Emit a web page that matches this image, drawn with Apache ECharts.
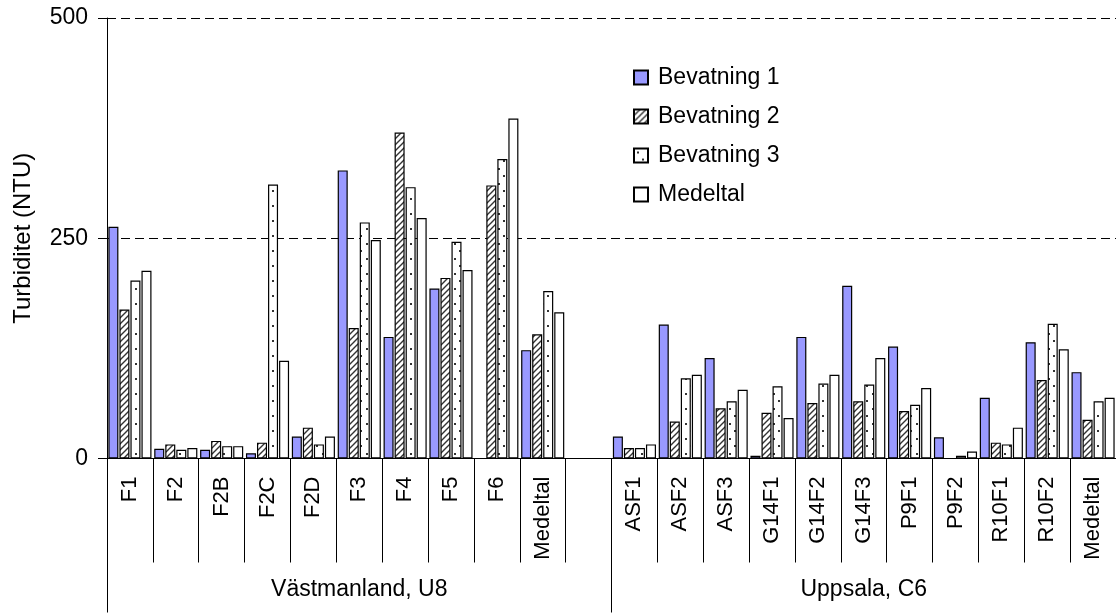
<!DOCTYPE html>
<html>
<head>
<meta charset="utf-8">
<script src="https://cdn.jsdelivr.net/npm/echarts@6/dist/echarts.min.js"></script>
<style>
  html, body { margin: 0; padding: 0; background: #fff; }
  #chart { width: 1116px; height: 613px; }
</style>
</head>
<body>
<div id="chart"></div>
<script>
// Sampling sites (blank slot separates the two regions)
const categories = ['F1', 'F2', 'F2B', 'F2C', 'F2D', 'F3', 'F4', 'F5', 'F6', 'Medeltal', '',
  'ASF1', 'ASF2', 'ASF3', 'G14F1', 'G14F2', 'G14F3', 'P9F1', 'P9F2', 'R10F1', 'R10F2', 'Medeltal'];
const regions = ['Västmanland, U8', 'Uppsala, C6'];
const seriesNames = ['Bevatning 1', 'Bevatning 2', 'Bevatning 3', 'Medeltal'];

// Turbidity (NTU) per irrigation
const bevatning1 = [263, 11, 10, 6, 25, 327, 138, 193, 0, 123, null,
  25, 152, 114, 3, 138, 196, 127, 24, 69, 132, 98];
const bevatning2 = [169, 16, 20, 18, 35, 148, 370, 205, 310, 141, null,
  12, 42, 57, 52, 63, 65, 54, 0, 18, 89, 44];
const bevatning3 = [202, 10, 14, 311, 16, 268, 308, 246, 340, 190, null,
  12, 91, 65, 82, 85, 84, 61, 3, 16, 153, 65];
const medeltal = [213, 12, 14, 111, 25, 248, 273, 214, 386, 166, null,
  16, 95, 78, 46, 95, 114, 80, 8, 35, 124, 69];

const yTicks = { min: 0, max: 500, interval: 250 };

const FONT = '"Liberation Sans", Arial, sans-serif';

// Fill patterns
function hatchPattern() {
  const c = document.createElement('canvas');
  c.width = 6; c.height = 6;
  const g = c.getContext('2d');
  g.fillStyle = '#fff'; g.fillRect(0, 0, 6, 6);
  g.strokeStyle = '#333'; g.lineWidth = 1.4;
  g.beginPath();
  g.moveTo(-1, 7); g.lineTo(7, -1);
  g.moveTo(-4, 4); g.lineTo(4, -4);
  g.moveTo(2, 10); g.lineTo(10, 2);
  g.stroke();
  return { image: c, repeat: 'repeat' };
}
function dotPattern() {
  const c = document.createElement('canvas');
  c.width = 11; c.height = 15;
  const g = c.getContext('2d');
  g.fillStyle = '#fff'; g.fillRect(0, 0, 11, 15);
  g.fillStyle = '#333';
  g.fillRect(3, 3, 2, 2);
  g.fillRect(8, 10, 2, 2);
  return { image: c, repeat: 'repeat' };
}

const fills = ['#9999FF', hatchPattern(), dotPattern(), '#FFFFFF'];
const values = [bevatning1, bevatning2, bevatning3, medeltal];

const chart = echarts.init(document.getElementById('chart'), null, { renderer: 'canvas' });

const bandWidth = 46.2;

chart.setOption({
  animation: false,
  backgroundColor: '#fff',
  textStyle: { fontFamily: FONT, color: '#000' },
  grid: { left: 107, top: 18, width: bandWidth * categories.length, bottom: 154.5, containLabel: false },
  legend: {
    orient: 'vertical',
    left: 633,
    top: 65,
    padding: 0,
    itemWidth: 14,
    itemHeight: 14,
    itemGap: 14,
    icon: 'rect',
    data: seriesNames,
    textStyle: { fontSize: 23, fontFamily: FONT, color: '#000', lineHeight: 25, padding: [0, 0, 0, 5] }
  },
  xAxis: [
    {
      type: 'category',
      data: categories,
      position: 'bottom',
      axisLine: { lineStyle: { color: '#000', width: 1 } },
      axisTick: { show: true, length: 104, interval: 0, lineStyle: { color: '#000', width: 1 } },
      axisLabel: { interval: 0, rotate: 90, margin: 18, fontSize: 22, fontFamily: FONT, color: '#000' },
      splitLine: { show: false }
    },
    {
      type: 'category',
      data: regions,
      position: 'bottom',
      axisLine: { show: false },
      axisTick: { show: true, length: 154, interval: 0, lineStyle: { color: '#000', width: 1 } },
      axisLabel: { interval: 0, margin: 120, fontSize: 23, fontFamily: FONT, color: '#000' },
      splitLine: { show: false }
    }
  ],
  yAxis: {
    type: 'value',
    min: yTicks.min,
    max: yTicks.max,
    interval: yTicks.interval,
    name: 'Turbiditet (NTU)',
    nameLocation: 'middle',
    nameGap: 72,
    nameTextStyle: { fontSize: 24, fontFamily: FONT, color: '#000' },
    axisLine: { show: true, lineStyle: { color: '#000', width: 1 } },
    axisTick: { show: true, length: 9, lineStyle: { color: '#000', width: 1 } },
    axisLabel: { margin: 19, fontSize: 23, fontFamily: FONT, color: '#000' },
    splitLine: { show: true, lineStyle: { color: '#000', width: 1, type: [9, 5] } }
  },
  series: seriesNames.map((name, i) => ({
    name,
    type: 'bar',
    xAxisIndex: 0,
    data: values[i],
    barGap: '10%',
    barCategoryGap: '6%',
    itemStyle: { color: fills[i], borderColor: '#000', borderWidth: 1.2 },
    emphasis: { disabled: true }
  }))
});
</script>
</body>
</html>
